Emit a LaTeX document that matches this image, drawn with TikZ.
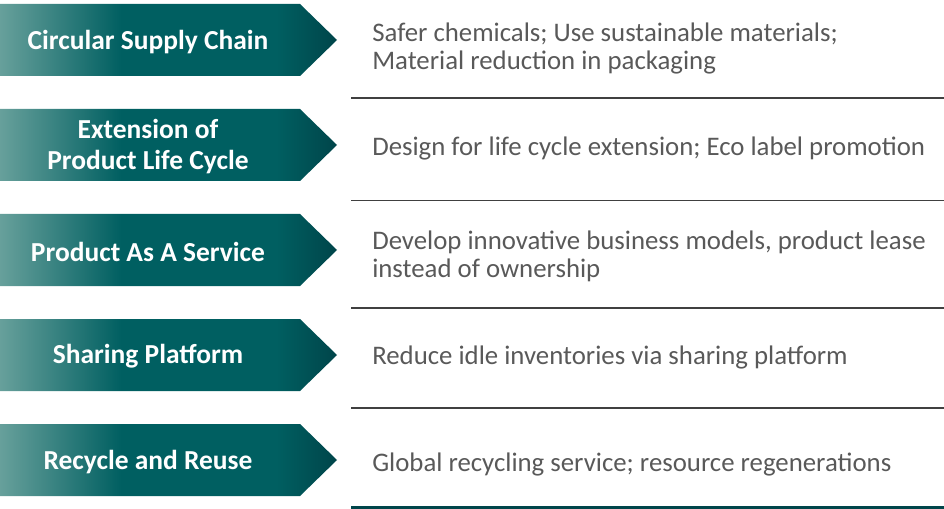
\documentclass[tikz,border=0pt]{standalone}
\usepackage{fontspec}
\setmainfont{Carlito}
\usepackage{tikz}
\usetikzlibrary{positioning}

\definecolor{tealL}{HTML}{67A09B}
\definecolor{tealM}{HTML}{005F61}
\definecolor{tealD}{HTML}{00454A}
\definecolor{txtgray}{HTML}{595959}
\definecolor{rulegray}{HTML}{404040}

\pgfdeclarehorizontalshading{chevshade}{100bp}{color(0bp)=(tealL); color(25bp)=(tealL);
  color(43bp)=(tealM); color(66bp)=(tealM); color(75bp)=(tealD); color(100bp)=(tealD)}

\tikzset{
  chevron/.style={shading=chevshade, shading angle=0},
  chevtext/.style={text=white, font=\fontsize{20.6}{23}\bfseries\selectfont, align=center},
  rowtext/.style={anchor=west, text=txtgray, font=\fontsize{20.1}{21}\selectfont, align=left, inner sep=0pt},
  rowline/.style={draw=rulegray, line width=1.2pt}
}

\begin{document}
\begin{tikzpicture}[x=0.75pt,y=-0.75pt]
      \useasboundingbox (0,0) rectangle (944,509);
      % chevrons
      \shade[chevron] (0,4) -- (300,4) -- (337,40) -- (300,76) -- (0,76) -- cycle;
      \shade[chevron] (0,109) -- (300,109) -- (337,145) -- (300,181) -- (0,181) -- cycle;
      \shade[chevron] (0,214) -- (300,214) -- (337,250) -- (300,286) -- (0,286) -- cycle;
      \shade[chevron] (0,319) -- (300,319) -- (337,355) -- (300,391) -- (0,391) -- cycle;
      \shade[chevron] (0,424) -- (300,424) -- (337,460) -- (300,496) -- (0,496) -- cycle;
      \node[chevtext] (circ) at (148,42) {Circular Supply Chain};
      \node[chevtext] (ext) at (148,146.5) {Extension of\\Product Life Cycle};
      \node[chevtext] (paas) at (148,252) {Product As A Service};
      \node[chevtext] (share) at (148,356.5) {Sharing Platform};
      \node[chevtext] (recyc) at (148,462) {Recycle and Reuse};
      % descriptions
      \node[rowtext] (circtxt) at (372,49) {Safer chemicals; Use sustainable materials;\\Material reduction in packaging};
      \node[rowtext] (exttxt) at (372,149) {Design for life cycle extension; Eco label promotion};
      \node[rowtext] (paastxt) at (372,256) {Develop innovative business models, product lease\\instead of ownership};
      \node[rowtext] (sharetxt) at (372,357) {Reduce idle inventories via sharing platform};
      \node[rowtext] (recyctxt) at (372,464) {Global recycling service; resource regenerations};
      % separators
      \draw[rowline] (351,98) -- (944,98);
      \draw[rowline] (351,200.5) -- (944,200.5);
      \draw[rowline] (351,308) -- (944,308);
      \draw[rowline] (351,408) -- (944,408);
      \draw[draw=tealD, line width=2.4pt] (351,507.5) -- (944,507.5);
    \end{tikzpicture}
\end{document}
